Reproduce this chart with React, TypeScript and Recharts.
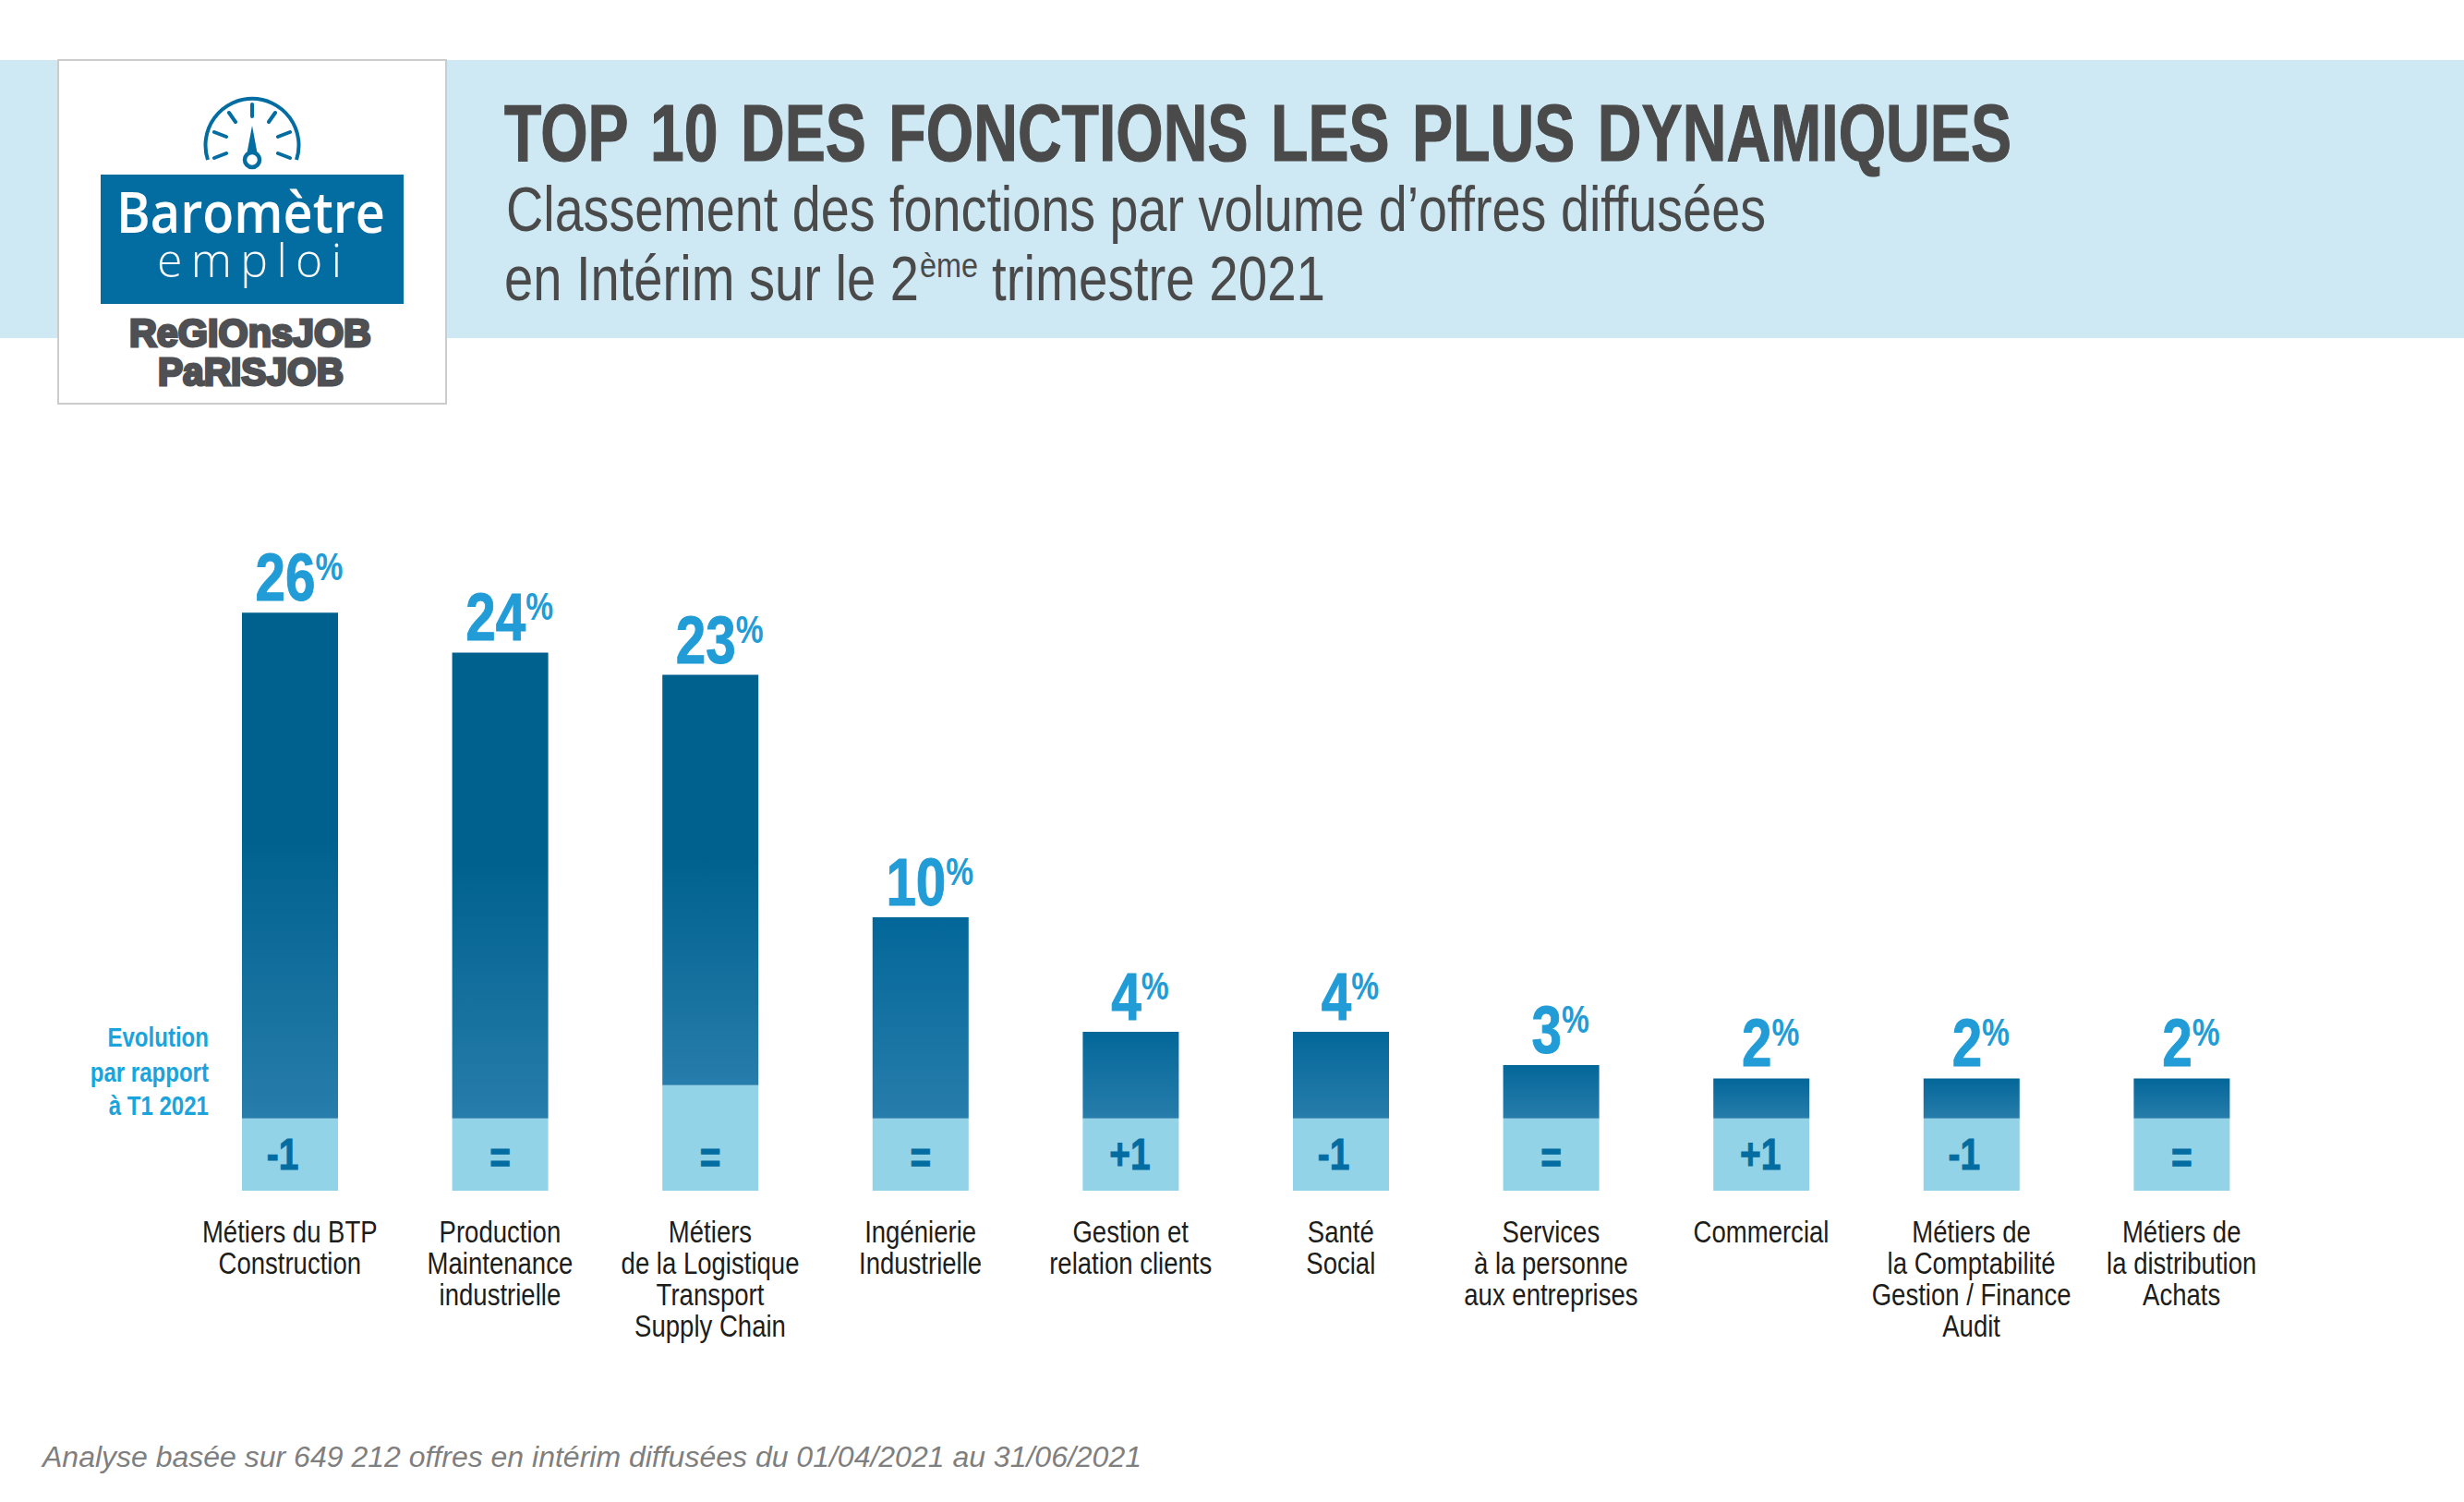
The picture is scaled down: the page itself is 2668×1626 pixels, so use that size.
import { BarChart, Bar, Cell, XAxis, YAxis, LabelList } from "recharts"

const categories = [
  "Métiers du BTP\nConstruction",
  "Production\nMaintenance\nindustrielle",
  "Métiers\nde la Logistique\nTransport\nSupply Chain",
  "Ingénierie\nIndustrielle",
  "Gestion et\nrelation clients",
  "Santé\nSocial",
  "Services\nà la personne\naux entreprises",
  "Commercial",
  "Métiers de\nla Comptabilité\nGestion / Finance\nAudit",
  "Métiers de\nla distribution\nAchats",
]

// printed percentages
const shares = [26, 24, 23, 10, 4, 4, 3, 2, 2, 2]
// the bars are not drawn to the printed value, so these are read off the bar heights
const barLevels = [26, 24.2, 23.2, 12.3, 7.15, 7.15, 5.65, 5.05, 5.05, 5.05]
const evolutionLevels = [3.25, 3.25, 4.75, 3.25, 3.25, 3.25, 3.25, 3.25, 3.25, 3.25]
const evolutions = ["-1", "=", "=", "=", "+1", "-1", "=", "+1", "-1", "="]

const chartData = categories.map((name, i) => ({
  name,
  share: shares[i],
  evolution: evolutions[i],
  light: evolutionLevels[i],
  dark: barLevels[i] - evolutionLevels[i],
}))

const SANS = "'Liberation Sans', sans-serif"

const ShareLabel = ({ x, y, width, index }: any) => (
  <g transform={`translate(${x + width / 2 + 10},${y - 13}) scale(0.8,1)`}>
    <text textAnchor="middle" fontFamily={SANS} fontWeight={700} fontSize={73} fill="#219CD6" stroke="#219CD6" strokeWidth={1}>
      {shares[index]}
      <tspan fontSize={42} strokeWidth={0} dy={-22}>
        %
      </tspan>
    </text>
  </g>
)

const EvolutionLabel = ({ x, y, width, height, index }: any) => {
  const value = evolutions[index]
  const cx = x + width / 2 + (value === "-1" ? -8 : value === "+1" ? -1 : 0)
  const base = y + height - (value === "=" ? 19 : 23)
  return (
    <g transform={`translate(${cx},${base}) scale(0.81,1)`}>
      <text textAnchor="middle" fontFamily={SANS} fontWeight={700} fontSize={48} fill="#036DA2" stroke="#036DA2" strokeWidth={1}>
        {value}
      </text>
    </g>
  )
}

const CategoryTick = ({ x, y, payload }: any) => (
  <g transform={`translate(${x},${y + 56}) scale(0.835,1)`}>
    <text textAnchor="middle" fontFamily={SANS} fontSize={33} fill="#1d1d1b">
      {String(payload.value)
        .split("\n")
        .map((line, i) => (
          <tspan key={i} x={0} y={i * 34}>
            {line}
          </tspan>
        ))}
    </text>
  </g>
)

const Gauge = () => (
  <g stroke="#036DA2" strokeLinecap="round" fill="none">
    <path d="M225 173 A50.5 50.5 0 1 1 321 173" strokeWidth={4} strokeLinecap="butt" />
    <path
      d="M273 113V126M248 122L255 132M298 122L291 132M232 143L245 148M314 143L301 148M232 171L245 166M314 171L301 166"
      strokeWidth={4}
    />
    <path d="M273 136L267 168H279Z" fill="#036DA2" stroke="none" />
    <circle cx={273} cy={173} r={8} strokeWidth={4.5} fill="#fff" />
  </g>
)

const Header = () => (
  <svg width={2668} height={1626} style={{ position: "absolute", left: 0, top: 0 }}>
    <rect x={0} y={65} width={2668} height={301} fill="#CFE9F4" />
    <rect x={63} y={65} width={420} height={372} fill="#fff" stroke="#CCCCCC" strokeWidth={2} />
    <Gauge />
    <rect x={109} y={189} width={328} height={140} fill="#036DA2" />
    <text x={126} y={252} textLength={291} lengthAdjust="spacingAndGlyphs" fontFamily="'Open Sans'" fontWeight={600} fontSize={62} fill="#fff">
      Baromètre
    </text>
    <text x={170} y={300} textLength={200} fontFamily="'Open Sans'" fontWeight={300} fontSize={50} fill="#fff">
      emploi
    </text>
    <text x={140} y={375} textLength={262} lengthAdjust="spacingAndGlyphs" fontFamily={SANS} fontWeight={700} fontSize={42} fill="#4F5054" stroke="#4F5054" strokeWidth={3}>
      ReGIOnsJOB
    </text>
    <text x={171} y={417} textLength={201} lengthAdjust="spacingAndGlyphs" fontFamily={SANS} fontWeight={700} fontSize={42} fill="#4F5054" stroke="#4F5054" strokeWidth={3}>
      PaRISJOB
    </text>

    <g transform="translate(546,174) scale(0.8,1)">
      <text
        x={0}
        y={0}
        textLength={2040}
        lengthAdjust="spacingAndGlyphs"
        wordSpacing={8}
        fontFamily={SANS}
        fontWeight={700}
        fontSize={87}
        fill="#4A4A4A"
        stroke="#4A4A4A"
        strokeWidth={1.2}
      >
        TOP 10 DES FONCTIONS LES PLUS DYNAMIQUES
      </text>
    </g>
    <text x={548} y={250} textLength={1364} lengthAdjust="spacingAndGlyphs" fontFamily={SANS} fontSize={68} fill="#4A4A4A">
      Classement des fonctions par volume d’offres diffusées
    </text>
    <text x={546} y={325} textLength={449} lengthAdjust="spacingAndGlyphs" fontFamily={SANS} fontSize={68} fill="#4A4A4A">
      en Intérim sur le 2
    </text>
    <text x={996} y={300} textLength={63} lengthAdjust="spacingAndGlyphs" fontFamily={SANS} fontSize={36} fill="#4A4A4A">
      ème
    </text>
    <text x={1074} y={325} textLength={361} lengthAdjust="spacingAndGlyphs" fontFamily={SANS} fontSize={68} fill="#4A4A4A">
      trimestre 2021
    </text>

    <g transform="translate(226,0) scale(0.83,1)" fontFamily={SANS} fontWeight={700} fontSize={29} fill="#1BA3DC" textAnchor="end">
      <text x={0} y={1133}>Evolution</text>
      <text x={0} y={1171}>par rapport</text>
      <text x={0} y={1207}>à T1 2021</text>
    </g>

    <text x={46} y={1588} textLength={1190} lengthAdjust="spacingAndGlyphs" fontFamily={SANS} fontStyle="italic" fontSize={31} fill="#7F7F7F">
      Analyse basée sur 649 212 offres en intérim diffusées du 01/04/2021 au 31/06/2021
    </text>
  </svg>
)

export default function App() {
  return (
    <div style={{ position: "absolute", left: 0, top: 0, width: 2668, height: 1626, background: "#fff", overflow: "hidden" }}>
      <Header />
      <div style={{ position: "absolute", left: 0, top: 500 }}>
        <BarChart
          width={2668}
          height={1000}
          data={chartData}
          margin={{ top: 115, right: 192, bottom: 0, left: 200 }}
        >
          <defs>
            <linearGradient id="tallBar" x1="0" y1="0" x2="0" y2="1">
              <stop offset="0%" stopColor="#00618F" />
              <stop offset="45%" stopColor="#00618F" />
              <stop offset="100%" stopColor="#277DAB" />
            </linearGradient>
            <linearGradient id="shortBar" x1="0" y1="0" x2="0" y2="1">
              <stop offset="0%" stopColor="#036799" />
              <stop offset="100%" stopColor="#277DAB" />
            </linearGradient>
          </defs>
          <XAxis
            dataKey="name"
            height={211}
            interval={0}
            axisLine={false}
            tickLine={false}
            tickSize={0}
            tickMargin={0}
            tick={CategoryTick}
          />
          <YAxis hide domain={[0, 28]} />
          <Bar dataKey="light" stackId="bar" barSize={104} fill="#92D3E7" isAnimationActive={false}>
            <LabelList dataKey="evolution" content={EvolutionLabel} />
          </Bar>
          <Bar dataKey="dark" stackId="bar" barSize={104} isAnimationActive={false}>
            {chartData.map((d) => (
              <Cell key={d.name} fill={d.dark > 15 ? "url(#tallBar)" : "url(#shortBar)"} />
            ))}
            <LabelList dataKey="share" content={ShareLabel} />
          </Bar>
        </BarChart>
      </div>
    </div>
  )
}
